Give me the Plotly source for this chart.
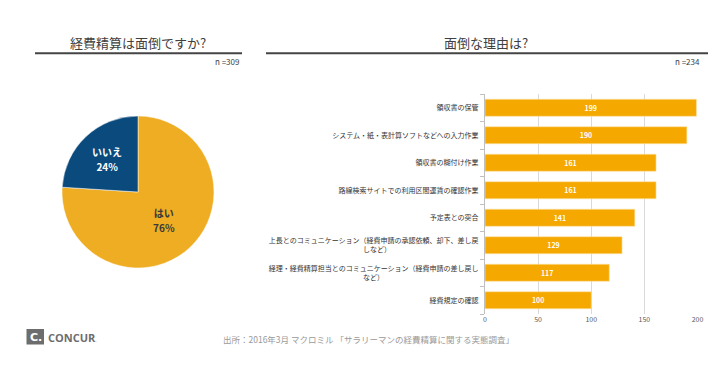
import plotly.graph_objects as go

# ---- data ----
pie_labels = ["はい", "いいえ"]
pie_values = [76, 24]
pie_colors = ["#EEAD22", "#0B4A7C"]
pie_text_colors = ["#3a3a3a", "#ffffff"]

reason_labels = [
    "領収書の保管",
    "システム・紙・表計算ソフトなどへの入力作業",
    "領収書の糊付け作業",
    "路線検索サイトでの利用区間運賃の確認作業",
    "予定表との突合",
    "上長とのコミュニケーション（経費申請の承認依頼、却下、差し戻\nしなど）",
    "経理・経費精算担当とのコミュニケーション（経費申請の差し戻し\nなど）",
    "経費規定の確認",
]
reason_values = [199, 190, 161, 161, 141, 129, 117, 100]
x_ticks = [0, 50, 100, 150, 200]

left_title = "経費精算は面倒ですか?"
right_title = "面倒な理由は?"
left_n = "n =309"
right_n = "n =234"
source = "出所：2016年3月 マクロミル 「サラリーマンの経費精算に関する実態調査」"

W, H = 720, 377
FONT = "Noto Sans CJK JP, Noto Sans, sans-serif"

def px(x):
    return x / W

def py(y):
    return 1 - y / H

def tick_label(s):
    # wrapped labels: centre the following lines under the first one
    lines = s.split("\n")
    if len(lines) == 1:
        return s
    first = lines[0]
    out = [first]
    for ln in lines[1:]:
        pad = int(round((len(first) - len(ln)) / 2))
        out.append(ln + "\u3000" * pad)
    return "<br>".join(out)

categories = [s.replace("\n", "") for s in reason_labels]
tick_texts = [tick_label(s) for s in reason_labels]

fig = go.Figure()

fig.add_trace(go.Pie(
    labels=pie_labels,
    values=pie_values,
    sort=False,
    direction="clockwise",
    rotation=0,
    marker=dict(colors=pie_colors, line=dict(color="#ffffff", width=0.5)),
    texttemplate=("<span style='font-size:10px'><b>%{label}</b></span><br> <br>"
                  "<span style='font-size:10px'><b>%{percent:.0%}</b></span>"),
    textposition="inside",
    insidetextorientation="horizontal",
    textfont=dict(family=FONT, size=5.8, color=pie_text_colors),
    domain=dict(x=[px(62), px(214)], y=[py(268), py(116)]),
    showlegend=False,
    hoverinfo="label+percent",
))

fig.add_trace(go.Bar(
    x=reason_values,
    y=categories,
    orientation="h",
    marker=dict(color="#F5A800", line=dict(color="#FCE3A6", width=0.6)),
    width=0.62,
    text=[f"<b>{v}</b>" for v in reason_values],
    textposition="inside",
    insidetextanchor="middle",
    textfont=dict(family=FONT, size=7, color="#ffffff"),
    xaxis="x", yaxis="y",
    showlegend=False,
))

fig.update_layout(
    width=W, height=H,
    autosize=False,
    margin=dict(l=0, r=0, t=0, b=0, autoexpand=False),
    paper_bgcolor="#ffffff",
    plot_bgcolor="#ffffff",
    font=dict(family=FONT, color="#333333"),
    xaxis=dict(
        domain=[px(485), px(697.5)],
        range=[0, 200],
        tickvals=x_ticks,
        showgrid=True, gridcolor="#d9d9d9", gridwidth=1,
        zeroline=False,
        showline=False,
        ticks="",
        tickfont=dict(size=7, color="#595959", family=FONT),
        anchor="y",
        automargin=False,
        fixedrange=True,
    ),
    yaxis=dict(
        domain=[py(314), py(94)],
        autorange="reversed",
        tickmode="array",
        tickvals=categories,
        ticktext=tick_texts,
        showline=True, linecolor="#bfbfbf", linewidth=1,
        ticks="outside", ticklen=4, tickcolor="#bfbfbf",
        tickson="boundaries",
        showgrid=False,
        tickfont=dict(size=7, color="#333333", family=FONT),
        ticklabelstandoff=4,
        anchor="x",
        automargin=False,
        fixedrange=True,
    ),
    shapes=[
        dict(type="line", xref="paper", yref="paper", x0=px(35), x1=px(242), y0=py(53.3), y1=py(53.3),
             line=dict(color="#444444", width=2)),
        dict(type="line", xref="paper", yref="paper", x0=px(266), x1=px(708), y0=py(53.3), y1=py(53.3),
             line=dict(color="#444444", width=2)),
        dict(type="rect", xref="paper", yref="paper", x0=px(26.5), x1=px(44), y0=py(344.5), y1=py(329),
             fillcolor="#6d6d6d", line=dict(width=0)),
    ],
    annotations=[
        dict(text=left_title, x=px(138), y=py(43), xref="paper", yref="paper", showarrow=False,
             xanchor="center", yanchor="middle", font=dict(size=13, color="#404040", family=FONT)),
        dict(text=right_title, x=px(486), y=py(43), xref="paper", yref="paper", showarrow=False,
             xanchor="center", yanchor="middle", font=dict(size=13, color="#404040", family=FONT)),
        dict(text=left_n, x=px(241), y=py(62), xref="paper", yref="paper", showarrow=False,
             xanchor="right", yanchor="middle", font=dict(size=8, color="#404040", family=FONT)),
        dict(text=right_n, x=px(702), y=py(62), xref="paper", yref="paper", showarrow=False,
             xanchor="right", yanchor="middle", font=dict(size=8, color="#404040", family=FONT)),
        dict(text=source, x=px(368), y=py(339), xref="paper", yref="paper", showarrow=False,
             xanchor="center", yanchor="middle", font=dict(size=8.5, color="#9a9a9a", family=FONT)),
        dict(text="<b>C.</b>", x=px(35.5), y=py(337), xref="paper", yref="paper", showarrow=False,
             xanchor="center", yanchor="middle", font=dict(size=11, color="#ffffff", family="DejaVu Sans")),
        dict(text="<b>CONCUR</b><span style='font-size:5px'>.</span>", x=px(46), y=py(337), xref="paper", yref="paper", showarrow=False,
             xanchor="left", yanchor="middle", font=dict(size=11, color="#6d6d6d", family="Open Sans")),
    ],
)

fig.write_html("out.html", config={"displayModeBar": False},
               post_script="document.body.style.margin='0px';")
